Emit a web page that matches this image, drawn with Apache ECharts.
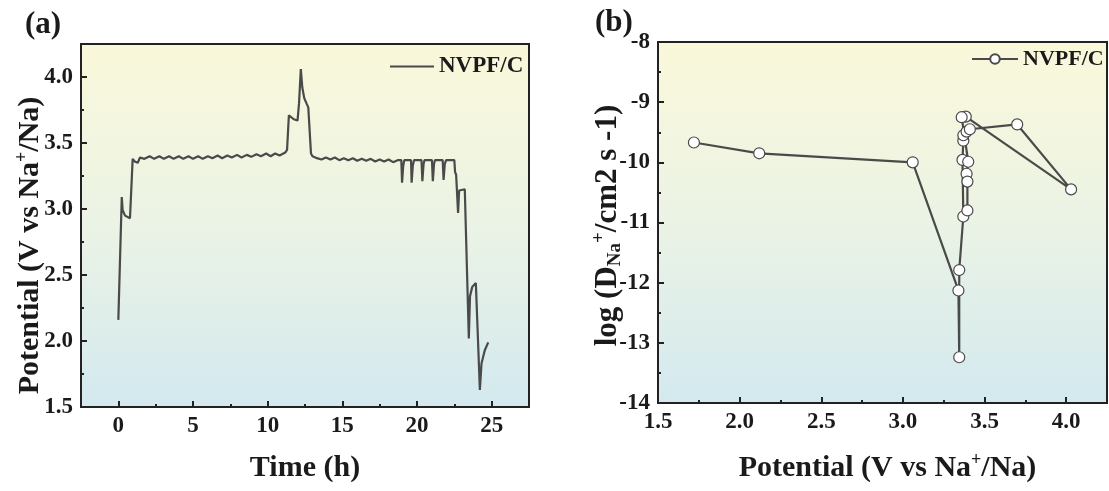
<!DOCTYPE html>
<html>
<head>
<meta charset="utf-8">
<script src="https://cdn.jsdelivr.net/npm/echarts@6/dist/echarts.min.js"></script>
<style>
  html, body { margin: 0; padding: 0; background: #fff; }
  #main { width: 1109px; height: 491px; }
</style>
</head>
<body>
<div id="main"></div>
<script>
// (a) GITT curve: time (h) vs potential
var timeH = [0, 0.23, 0.29, 0.45, 0.78, 0.96, 1.1, 1.3, 1.45, 1.75, 2.1, 2.4, 2.75, 3.05, 3.4, 3.7, 4.05, 4.35, 4.7, 5.0,
  5.35, 5.65, 6.0, 6.3, 6.65, 6.95, 7.3, 7.6, 7.95, 8.25, 8.6, 8.9, 9.25, 9.55, 9.9, 10.2, 10.5, 10.8, 11.05, 11.2,
  11.3, 11.42, 11.55, 11.75, 12.0, 12.1, 12.22, 12.32, 12.45, 12.6, 12.72, 12.9, 13.0,
  13.3, 13.6, 13.9, 14.2, 14.5, 14.8, 15.1, 15.4, 15.7, 16.0, 16.3, 16.6, 16.9, 17.2, 17.5, 17.8, 18.1, 18.4, 18.7,
  18.95, 19.0, 19.08, 19.15, 19.6, 19.64, 19.72, 19.8, 20.3, 20.36, 20.44, 20.5, 21.0, 21.06, 21.14, 21.2,
  21.72, 21.78, 21.86, 21.95, 22.5, 22.55, 22.62, 22.75, 22.82, 23.2, 23.47, 23.55, 23.7, 23.94, 24.21, 24.32, 24.54, 24.77];
var potentialA = [2.16, 3.09, 2.99, 2.95, 2.93, 3.38, 3.36, 3.35, 3.39, 3.38, 3.40, 3.38, 3.40, 3.38, 3.40, 3.38, 3.40, 3.38, 3.40, 3.38,
  3.40, 3.38, 3.40, 3.385, 3.405, 3.385, 3.405, 3.39, 3.41, 3.39, 3.41, 3.395, 3.415, 3.40, 3.42, 3.40, 3.42, 3.405, 3.42, 3.43,
  3.45, 3.71, 3.70, 3.68, 3.67, 3.80, 4.06, 3.92, 3.84, 3.80, 3.77, 3.42, 3.40,
  3.385, 3.375, 3.39, 3.375, 3.39, 3.37, 3.385, 3.37, 3.385, 3.365, 3.38, 3.365, 3.38, 3.36, 3.375, 3.36, 3.375, 3.355, 3.37,
  3.37, 3.20, 3.33, 3.37, 3.37, 3.20, 3.33, 3.37, 3.37, 3.21, 3.34, 3.37, 3.37, 3.21, 3.34, 3.37,
  3.37, 3.22, 3.34, 3.37, 3.37, 3.28, 3.26, 2.97, 3.14, 3.15, 2.02, 2.34, 2.41, 2.44, 1.63, 1.83, 1.93, 1.99];

// (b) log D vs potential
var potB = [1.72, 2.12, 3.06, 3.34, 3.345, 3.345, 3.37, 3.365, 3.37, 3.37, 3.39, 3.41, 3.70, 4.03, 3.385, 3.36, 3.40, 3.39, 3.395, 3.395];
var logD = [-9.67, -9.85, -10.0, -12.13, -13.24, -11.79, -10.9, -9.96, -9.64, -9.55, -9.49, -9.45, -9.37, -10.45, -9.24, -9.25, -9.99, -10.19, -10.32, -10.80];

var ticksXa = [0, 5, 10, 15, 20, 25];
var minorXa = [2.5, 7.5, 12.5, 17.5, 22.5];
var ticksYa = [1.5, 2.0, 2.5, 3.0, 3.5, 4.0];
var minorYa = [1.75, 2.25, 2.75, 3.25, 3.75];
var ticksXb = [1.5, 2.0, 2.5, 3.0, 3.5, 4.0];
var minorXb = [1.75, 2.25, 2.75, 3.25, 3.75];
var ticksYb = [-14, -13, -12, -11, -10, -9, -8];
var minorYb = [-13.5, -12.5, -11.5, -10.5, -9.5, -8.5];

var FONT = '"Times New Roman", "Liberation Serif", serif';
var INK = '#1a1a1a';
var LINE = '#4a4a4a';

function bg() {
  return new echarts.graphic.LinearGradient(0, 0, 0, 1, [
    { offset: 0, color: '#faf8da' },
    { offset: 0.5, color: '#ebf3e5' },
    { offset: 1, color: '#d3e9ef' }
  ]);
}

function richFor(size) {
  return {
    sup: { fontSize: size, fontWeight: 'bold', fontFamily: FONT, color: INK, lineHeight: size - 1, verticalAlign: 'top' },
    sub: { fontSize: size, fontWeight: 'bold', fontFamily: FONT, color: INK, lineHeight: size - 1, verticalAlign: 'bottom' }
  };
}

function mainAxis(gi, pos, min, max, interval, ticks, fmt, name, gap, pad, nameSize) {
  var ns = nameSize || 30;
  return {
    type: 'value', gridIndex: gi, position: pos, min: min, max: max, interval: interval,
    name: name, nameLocation: 'middle', nameGap: gap, nameMoveOverlap: false,
    nameRotate: (pos === 'left') ? 90 : 0,
    nameTextStyle: { fontFamily: FONT, fontWeight: 'bold', fontSize: ns, color: INK, lineHeight: ns + 4, rich: richFor(Math.round(ns * 0.6)), padding: pad || 0 },
    axisLine: { show: true, onZero: false, lineStyle: { color: '#222', width: 2 } },
    axisTick: { show: true, inside: true, length: 6, customValues: ticks, lineStyle: { color: '#222', width: 2 } },
    axisLabel: { customValues: ticks, formatter: fmt, margin: 8, fontFamily: FONT, fontWeight: 'bold', fontSize: 23, color: INK },
    splitLine: { show: false }
  };
}

function minorAxis(gi, pos, min, max, interval, ticks) {
  return {
    type: 'value', gridIndex: gi, position: pos, min: min, max: max, interval: interval,
    axisLine: { show: false, onZero: false },
    axisTick: { show: true, inside: true, length: 3, customValues: ticks, lineStyle: { color: '#222', width: 2 } },
    axisLabel: { show: false },
    splitLine: { show: false }
  };
}

function f1(v) { return v.toFixed(1); }
function f0(v) { return String(Math.round(v)); }

var chart = echarts.init(document.getElementById('main'), null, { renderer: 'canvas' });

var option = {
  backgroundColor: '#ffffff',
  animation: false,
  title: [
    { text: '(a)', left: 20, top: 4, textStyle: { fontFamily: FONT, fontWeight: 'bold', fontSize: 31, color: INK } },
    { text: '(b)', left: 590, top: 2, textStyle: { fontFamily: FONT, fontWeight: 'bold', fontSize: 31, color: INK } }
  ],
  legend: [
    {
      data: ['NVPF/C'], left: 384, top: 50, itemWidth: 44, itemHeight: 12,
      itemStyle: { color: 'rgba(0,0,0,0)', borderWidth: 0 },
      textStyle: { fontFamily: FONT, fontWeight: 'bold', fontSize: 23, color: INK }
    },
    {
      data: ['NVPF/C '], left: 966, top: 43, itemWidth: 46, itemHeight: 12,
      textStyle: { fontFamily: FONT, fontWeight: 'bold', fontSize: 22, color: INK }
    }
  ],
  grid: [
    { left: 81, top: 44, right: 580, bottom: 84, show: true, backgroundColor: bg(), borderColor: '#222', borderWidth: 2 },
    { left: 658, top: 42, right: 2, bottom: 88, show: true, backgroundColor: bg(), borderColor: '#222', borderWidth: 2 }
  ],
  xAxis: [
    mainAxis(0, 'bottom', -2.5, 27.5, 2.5, ticksXa, f0, 'Time (h)', 44),
    minorAxis(0, 'bottom', -2.5, 27.5, 2.5, minorXa),
    mainAxis(1, 'bottom', 1.5, 4.25, 0.25, ticksXb, f1, 'Potential (V vs Na{sup|+}/Na)', 48, [0, 0, 0, 10]),
    minorAxis(1, 'bottom', 1.5, 4.25, 0.25, minorXb)
  ],
  yAxis: [
    mainAxis(0, 'left', 1.5, 4.25, 0.25, ticksYa, f1, 'Potential (V vs Na{sup|+}/Na)', 34, [0, 40, 0, 0]),
    minorAxis(0, 'left', 1.5, 4.25, 0.25, minorYa),
    mainAxis(1, 'left', -14, -8, 0.5, ticksYb, f0, 'log (D{sub|Na}{sup|+}/cm2 s -1)', 33, [0, 6, 0, 0], 31),
    minorAxis(1, 'left', -14, -8, 0.5, minorYb)
  ],
  series: [
    {
      name: 'NVPF/C', type: 'line', xAxisIndex: 0, yAxisIndex: 0,
      symbol: 'none', smooth: false,
      lineStyle: { color: LINE, width: 2.2 },
      itemStyle: { color: LINE },
      data: timeH.map(function (t, i) { return [t, potentialA[i]]; })
    },
    {
      name: 'NVPF/C ', type: 'line', xAxisIndex: 2, yAxisIndex: 2,
      symbol: 'circle', symbolSize: 11,
      lineStyle: { color: LINE, width: 2.2 },
      itemStyle: { color: '#ffffff', borderColor: LINE, borderWidth: 1.2 },
      data: potB.map(function (p, i) { return [p, logD[i]]; })
    }
  ]
};

chart.setOption(option);
</script>
</body>
</html>
